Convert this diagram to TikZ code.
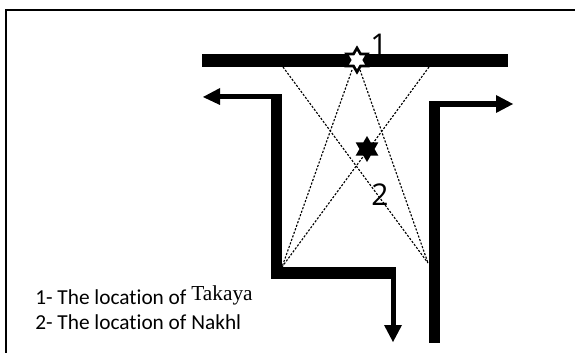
\documentclass[tikz,border=0pt]{standalone}
\usepackage{fontspec}
\setmainfont[Ligatures=NoCommon]{Carlito}
\newfontfamily\serifpart{Liberation Serif}
\newfontfamily\digitfont{Open Sans}
\usetikzlibrary{calc}
\tikzset{
  px/.style={x=0.75pt,y=-0.75pt},
  wall/.style={fill=black,draw=none},
  sight/.style={draw=black,line width=0.85pt,dash pattern=on 1.6pt off 1.2pt},
  legend/.style={anchor=base west,inner sep=0pt,font=\fontsize{16pt}{18pt}\selectfont},
  numeral/.style={inner sep=0pt,font=\digitfont\fontsize{22.5pt}{25pt}\selectfont},
}
\newcommand{\hexastar}[3]{%
  \fill[#3] ($(#1)+(90:#2)$) -- ($(#1)+(120:#2*0.58)$) -- ($(#1)+(150:#2)$) -- ($(#1)+(180:#2*0.58)$) -- ($(#1)+(210:#2)$) -- ($(#1)+(240:#2*0.58)$) -- ($(#1)+(270:#2)$) -- ($(#1)+(300:#2*0.58)$) -- ($(#1)+(330:#2)$) -- ($(#1)+(0:#2*0.58)$) -- ($(#1)+(30:#2)$) -- ($(#1)+(60:#2*0.58)$) -- cycle;}
\begin{document}
\begin{tikzpicture}[px]
\useasboundingbox (0,0) rectangle (575,353);
\fill[white] (0,0) rectangle (575,353);
\draw[black,line width=1.1pt] (6,353) -- (6,10) -- (575,10);
% dotted sight lines
\coordinate (tl) at (283,67);
\coordinate (tr) at (429,67);
\coordinate (sl) at (352,70);
\coordinate (sr) at (360,70);
\coordinate (bl) at (282,267);
\coordinate (br) at (428,263);
\draw[sight] (tl) -- (br);
\draw[sight] (tr) -- (bl);
\draw[sight] (sl) -- (bl);
\draw[sight] (sr) -- (br);
% walls
\fill[wall] (202,54) rectangle (508,67);
\fill[wall] (271,94) rectangle (282,279);
\fill[wall] (272,94) rectangle (220,99.5);
\fill[wall] (220,88) -- (203,97) -- (220,105) -- cycle;
\fill[wall] (428.5,101) rectangle (440,343);
\fill[wall] (440,101) rectangle (496,107.5);
\fill[wall] (496,95) -- (513,104) -- (496,113) -- cycle;
\fill[wall] (271,267) rectangle (396,279);
\fill[wall] (391,279) rectangle (396,326);
\fill[wall] (384,325) -- (402,325) -- (393,342) -- cycle;
% stars
\node[minimum size=0pt,inner sep=0pt] (white) at (357,60) {};
\node[minimum size=0pt,inner sep=0pt] (black) at (367,149) {};
\hexastar{white}{11pt}{black}
\hexastar{white}{6.8pt}{white}
\hexastar{black}{9.75pt}{black}
% labels
\node[numeral] (one) at (379,45) {1};
\node[numeral] (two) at (380,195) {2};
\node[legend] (la) at (35,304) {1- The location of {\raisebox{2.5pt}{\serifpart\fontsize{16pt}{18pt}\selectfont Takaya}}};
\node[legend] (lb) at (35,329) {2- The location of Nakhl};
\end{tikzpicture}
\end{document}
